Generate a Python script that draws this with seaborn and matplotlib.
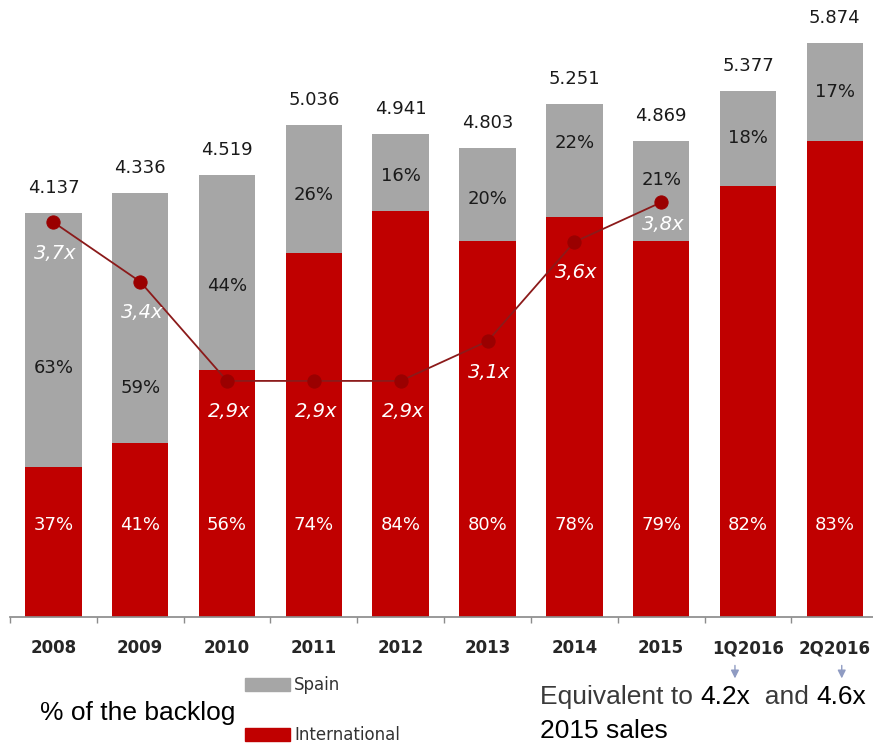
import numpy as np
import matplotlib.pyplot as plt
import matplotlib.patches as mpatches
from matplotlib.ticker import FixedLocator
import seaborn as sns

periods = ["2008", "2009", "2010", "2011", "2012", "2013", "2014", "2015", "1Q2016", "2Q2016"]
backlog = [4137, 4336, 4519, 5036, 4941, 4803, 5251, 4869, 5377, 5874]
intl_pct = [37, 41, 56, 74, 84, 80, 78, 79, 82, 83]
spain_pct = [63, 59, 44, 26, 16, 20, 22, 21, 18, 17]
ratio = [3.7, 3.4, 2.9, 2.9, 2.9, 3.1, 3.6, 3.8]
ratio_labels = ["3,7x", "3,4x", "2,9x", "2,9x", "2,9x", "3,1x", "3,6x", "3,8x"]

# where the Spain % label sits inside the grey segment (0 = bottom, 1 = top)
spain_lbl_frac = [0.39, 0.22, 0.43, 0.45, 0.46, 0.45, 0.65, 0.61, 0.51, 0.5]
ratio_lbl_dy = [-31, -31, -31, -31, -31, -31, -30, -22]

RED = "#c00000"
GREY = "#a6a6a6"
LINE = "#8b1a1a"

sns.set_theme(style="white")
plt.rcParams["font.family"] = ["DejaVu Sans"]

intl = [b * p / 100 for b, p in zip(backlog, intl_pct)]
pos = np.arange(len(periods))

fig = plt.figure(figsize=(8.73, 7.45), dpi=100)
ax = fig.add_axes([10 / 873, 1 - 617 / 745, 863 / 873, 617 / 745])

sns.barplot(x=periods, y=backlog, color=GREY, saturation=1, width=0.65,
            errorbar=None, linewidth=0, ax=ax)
sns.barplot(x=periods, y=intl, color=RED, saturation=1, width=0.65,
            errorbar=None, linewidth=0, ax=ax)

for i, (b, n, sp, f) in enumerate(zip(backlog, intl, spain_pct, spain_lbl_frac)):
    ax.annotate(f"{b / 1000:.3f}", (i, b), xytext=(0, 25), textcoords="offset pixels",
                ha="center", va="center", fontsize=13, color="#1a1a1a")
    ax.text(i, n + f * (b - n), f"{sp}%", ha="center", va="center",
            fontsize=13, color="#1a1a1a")
    ax.text(i, 940, f"{intl_pct[i]}%", ha="center", va="center",
            fontsize=13, color="white")

# ratio line on its own scale
ax2 = ax.twinx()
sns.lineplot(x=pos[:len(ratio)], y=ratio, ax=ax2, color=LINE, lw=1.3,
             marker="o", markersize=9.5, markerfacecolor="#9a0000",
             markeredgecolor="#9a0000")
ax2.set_ylim(1.71, 4.82)
ax2.axis("off")
for i, (r, lab, dy) in enumerate(zip(ratio, ratio_labels, ratio_lbl_dy)):
    ax2.annotate(lab, (i, r), xytext=(2, dy), textcoords="offset pixels",
                 ha="center", va="center", fontsize=14, fontstyle="italic",
                 color="white")

ax.set_xlim(-0.5, 9.44)
ax.set_ylim(0, 6313)
ax.set(xlabel="", ylabel="")
ax.set_yticks([])
for s in ["left", "right", "top"]:
    ax.spines[s].set_visible(False)
ax.spines["bottom"].set_color("#8c8c8c")
ax.xaxis.set_minor_locator(FixedLocator(pos - 0.5))
ax.tick_params(axis="x", which="major", length=0, pad=16, labelsize=12,
               labelcolor="#262626")
ax.tick_params(axis="x", which="minor", length=4.5, color="#8c8c8c", width=1,
               bottom=True)
for lbl in ax.get_xticklabels():
    lbl.set_fontweight("bold")

# little arrows under the 2016 bars
for x in (7.85, 9.08):
    ax.annotate("", xy=(x, -0.104), xytext=(x, -0.074),
                xycoords=ax.get_xaxis_transform(),
                arrowprops=dict(arrowstyle="-|>", color="#8f9bc2", lw=1,
                                mutation_scale=12),
                annotation_clip=False)

handles = [mpatches.Patch(color=GREY, label="Spain"),
           mpatches.Patch(color=RED, label="International")]
leg = fig.legend(handles=handles, loc="upper left",
                 bbox_to_anchor=(245 / 873, 1 - 676 / 745), frameon=False,
                 fontsize=12, handlelength=2.7, handleheight=0.8,
                 handletextpad=0.25, labelspacing=1.95, borderpad=0,
                 borderaxespad=0)
for t in leg.get_texts():
    t.set_color("#333333")

fig.text(40 / 873, 1 - 713 / 745, "% of the backlog", fontsize=19,
         family="Liberation Sans", va="center", color="black")

t1 = fig.text(540 / 873, 1 - 697 / 745, "Equivalent to ", fontsize=19,
              family="Liberation Sans", va="center", color="#3a3a3a")
prev = t1
for txt, col in [("4.2x", "black"), ("  and ", "#3a3a3a"), ("4.6x", "black")]:
    prev = ax.annotate(txt, xy=(1, 0), xycoords=prev, ha="left", va="bottom",
                       fontsize=19, family="Liberation Sans", color=col,
                       annotation_clip=False)
fig.text(540 / 873, 1 - 731 / 745, "2015 sales", fontsize=19,
         family="Liberation Sans", va="center", color="black")

fig.savefig("out.png", dpi=100)
